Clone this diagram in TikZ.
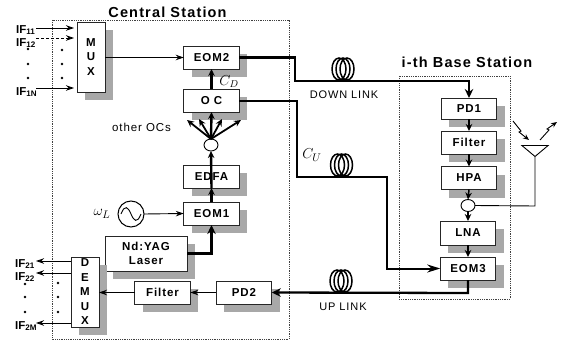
\documentclass[tikz,border=0pt]{standalone}
\usepackage{fontspec}
\setmainfont{Liberation Sans}
\newfontfamily\lblfont[LetterSpace=8]{Liberation Sans}
\usetikzlibrary{shapes.geometric,shadows,arrows.meta}
\definecolor{shade}{gray}{0.66}
\tikzset{
  x=1pt,y=-1pt,
  box/.style={draw=black!85,line width=0.9pt,fill=white,inner sep=0pt,outer sep=0pt,
    font=\fontsize{11.5}{14.5}\selectfont\bfseries\lblfont,align=center,
    drop shadow={shadow xshift=8pt,shadow yshift=-8pt,fill=shade,opacity=1}},
  stdbox/.style={box,minimum width=55.5pt,minimum height=23pt},
  station/.style={draw=black!75,line width=0.8pt,densely dotted},
  title/.style={font=\fontsize{14.5}{16}\selectfont\bfseries\lblfont,inner sep=0pt},
  iflabel/.style={font=\fontsize{11.5}{12}\selectfont\bfseries,inner sep=0pt},
  linklabel/.style={font=\fontsize{11}{12}\selectfont\lblfont,inner sep=0pt},
  thinline/.style={line width=0.9pt,-{Stealth[length=8pt,width=5.5pt]}},
  midline/.style={line width=1.5pt,-{Stealth[length=7pt,width=6.5pt]}},
  thickline/.style={line width=2.3pt,-{Stealth[length=9pt,width=8.5pt]}},
  coil/.style={line width=1.5pt},
  junction/.style={draw,ellipse,line width=0.9pt,fill=white,minimum width=14pt,minimum height=12pt,inner sep=0pt,outer sep=0pt},
  dotmark/.style={circle,fill=black,inner sep=0pt,minimum size=2.6pt},
}
\begin{document}
\begin{tikzpicture}
\useasboundingbox (0,0) rectangle (561,342);
% stations
\draw[station] (52,20) rectangle (289,339);
\draw[station] (399,76) rectangle (510,299);
\node[title] (cs) at (167.5,12) {Central Station};
\node[title] (bs) at (467,62) {i-th Base Station};
% central station boxes
\node[box,minimum width=28pt,minimum height=70pt] (mux) at (91,57) {M\\U\\X};
\node[stdbox] (eom2) at (211.5,57.5) {EOM2};
\node[stdbox] (oc) at (211.5,100.5) {O C};
\node[junction] (split) at (211,145) {};
\node[stdbox] (edfa) at (211.5,176.5) {EDFA};
\node[stdbox] (eom1) at (211.5,213.5) {EOM1};
\node[draw,circle,line width=1pt,minimum size=26pt,inner sep=0pt,outer sep=0pt] (osc) at (131,214) {};
\draw[line width=0.9pt] ([xshift=-10pt]osc.center) .. controls (125,204) and (128,207) .. (131,214) .. controls (134,221) and (137,224) .. ([xshift=10pt]osc.center);
\node[box,minimum width=82pt,minimum height=35pt] (yag) at (146,253.5) {Nd:YAG\\Laser};
\node[box,minimum width=28pt,minimum height=70pt] (demux) at (85,292) {D\\E\\M\\U\\X};
\node[stdbox] (filt2) at (162.5,292.5) {Filter};
\node[stdbox] (pd2) at (244,292.5) {PD2};
% base station boxes
\node[stdbox,minimum height=21pt] (pd1) at (469,108.5) {PD1};
\node[stdbox] (filt1) at (469,142.5) {Filter};
\node[stdbox] (hpa) at (469,178) {HPA};
\node[junction] (bsj) at (468,205.5) {};
\node[stdbox,minimum height=24pt] (lna) at (468,233) {LNA};
\node[stdbox] (eom3) at (468,268.5) {EOM3};
% antenna
\node[draw,isosceles triangle,shape border rotate=-90,isosceles triangle apex angle=100,line width=0.9pt,inner sep=0pt,minimum height=11pt,minimum width=26pt,outer sep=0pt,anchor=apex] (ant) at (535,156.5) {};
\draw[line width=0.9pt] (ant.apex) -- (535,206) -- (bsj.east);
\coordinate (w1a) at (513,121); \coordinate (w1b) at (521,131); \coordinate (w1c) at (519,132); \coordinate (w1d) at (529,140);
\coordinate (w2a) at (540,140); \coordinate (w2b) at (549,130); \coordinate (w2c) at (547,129); \coordinate (w2d) at (557,122);
\draw[line width=0.9pt,-{Stealth[length=6pt,width=5pt]}] (w1a) -- (w1b) -- (w1c) -- (w1d);
\draw[line width=0.9pt,-{Stealth[length=6pt,width=5pt]}] (w2a) -- (w2b) -- (w2c) -- (w2d);
% coils
\foreach \cx/\cy in {343/69,341/281,341.5/165}{
  \foreach \dx in {-4,0,4}{ \draw[coil] (\cx+\dx,\cy) ellipse [x radius=7,y radius=11]; }
}
% IF labels
\node[iflabel,anchor=west] (if11) at (16,30) {IF\textsubscript{11}};
\node[iflabel,anchor=west] (if12) at (16,43) {IF\textsubscript{12}};
\node[iflabel,anchor=west] (if1n) at (16,92) {IF\textsubscript{1N}};
\node[iflabel,anchor=west] (if21) at (15,264) {IF\textsubscript{21}};
\node[iflabel,anchor=west] (if22) at (15,277) {IF\textsubscript{22}};
\node[iflabel,anchor=west] (if2m) at (15,326) {IF\textsubscript{2M}};
\foreach \px/\py in {28/49,28/64,28/78,62/50,62/64,62/78,25/284,25/297,25/312,58/283,58/297,58/312}{
  \node[dotmark] at (\px,\py) {};
}
% IF arrows
\coordinate (i1) at (36,28); \coordinate (i2) at (36,38); \coordinate (i3) at (36,88);
\coordinate (i1e) at (74,28); \coordinate (i2e) at (74,38); \coordinate (i3e) at (74,88);
\draw[thinline] (i1) -- (i1e);
\draw[thinline,densely dashed] (i2) -- (i2e);
\draw[thinline] (i3) -- (i3e);
\coordinate (o1) at (71,261); \coordinate (o2) at (71,273); \coordinate (o3) at (71,323);
\coordinate (o1e) at (36,261); \coordinate (o2e) at (36,273); \coordinate (o3e) at (36,323);
\draw[thinline] (o1) -- (o1e);
\draw[thinline] (o2) -- (o2e);
\draw[thinline] (o3) -- (o3e);
% central connectors
\draw[thinline] (mux.east |- eom2.west) -- (eom2.west);
\draw[midline,line width=2.4pt] (oc.north) -- (eom2.south);
\draw[midline,line width=2.4pt] (split.north) -- (oc.south);
\foreach \tx/\ty in {187/120,199/119,222/119,241/120}{
  \draw[midline,line width=1.8pt] (split.north) -- (\tx,\ty);
}
\draw[midline,line width=2.4pt] (edfa.south) -- (split.south);
\draw[midline,line width=2.4pt] (eom1.north) -- (edfa.south);
\draw[thinline] (osc.east) -- (eom1.west);
\draw[thickline] (yag.east) -- (211.5,253.5) -- (eom1.south);
\node[inner sep=0pt] (wl) at (102,214) {\fontsize{15}{16}\selectfont$\omega_{L}$};
\node[inner sep=0pt] (cd) at (229,82) {\fontsize{14}{15}\selectfont$C_{D}$};
\node[inner sep=0pt] (cu) at (312,155) {\fontsize{15}{16}\selectfont$C_{U}$};
\node[inner sep=0pt,font=\fontsize{11.5}{13}\selectfont\lblfont] (others) at (141.5,127) {other OCs};
\draw[thinline] (filt2.west) -- (demux.east |- filt2.west);
\draw[thinline] (pd2.west) -- (filt2.east);
% links
\draw[thickline] (eom2.east) -- (295,57.5) -- (295,81) -- (469,81) -- (pd1.north);
\draw[line width=2pt,-{Stealth[length=13pt,width=8pt]}] (oc.east) -- (297,100.5) -- (297,177) -- (387,177) -- (387,268.5) -- (eom3.west);
\draw[thickline] (eom3.south) -- (468,293) -- (pd2.east);
\node[linklabel] (dl) at (344,95) {DOWN LINK};
\node[linklabel] (ul) at (343,307) {UP LINK};
% base connectors
\draw[midline] (pd1.south) -- (filt1.north);
\draw[midline] (filt1.south) -- (hpa.north);
\draw[midline] (hpa.south) -- (bsj.north);
\draw[midline] (bsj.south) -- (lna.north);
\draw[midline] (lna.south) -- (eom3.north);
\end{tikzpicture}
\end{document}
